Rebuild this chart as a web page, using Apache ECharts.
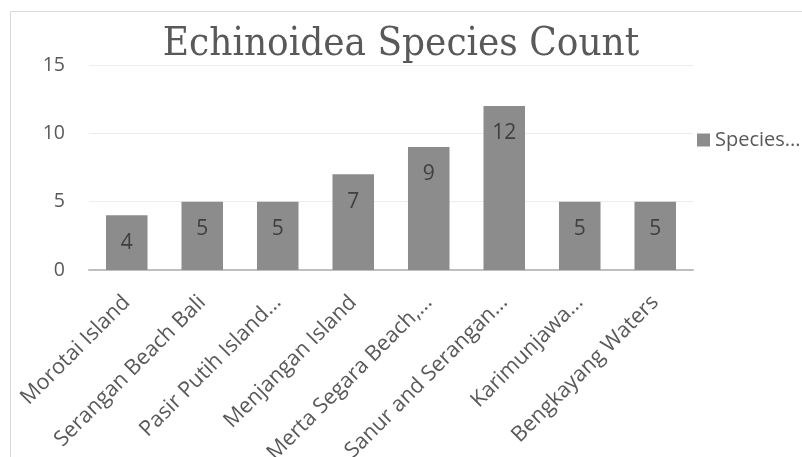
<!DOCTYPE html>
<html>
<head>
<meta charset="utf-8">
<script src="https://cdn.jsdelivr.net/npm/echarts@6/dist/echarts.min.js"></script>
<style>
html,body{margin:0;padding:0;background:#fff;}
#c{width:802px;height:457px;}
</style>
</head>
<body>
<div id="c"></div>
<script>
var categories = ["Morotai Island","Serangan Beach Bali","Pasir Putih Island...","Menjangan Island","Merta Segara Beach,...","Sanur and Serangan...","Karimunjawa...","Bengkayang Waters"];
var speciesCounts = [4,5,5,7,9,12,5,5];
var yTicks = {min:0, max:15, interval:5};
var seriesName = "Species...";
var titleText = "Echinoidea Species Count";

var chart = echarts.init(document.getElementById('c'), null, {renderer:'canvas'});
chart.setOption({
  backgroundColor:'#fff',
  animation:false,
  graphic:[{type:'rect', shape:{x:10.5,y:11.5,width:820,height:480}, style:{fill:'none', stroke:'#d9d9d9', lineWidth:1}, silent:true}],
  title:{text:titleText, left:'center', top:20, textStyle:{fontFamily:'DejaVu Serif Condensed', fontWeight:'normal', fontSize:40, color:'#595959'}},
  legend:{data:[seriesName], orient:'vertical', left:692, top:125, itemWidth:13, itemHeight:13, icon:'rect', textStyle:{fontFamily:'Open Sans', fontSize:20, color:'#595959'}, itemGap:5},
  grid:{left:89, right:109, top:65, bottom:187, containLabel:false, outerBoundsMode:'none'},
  xAxis:{type:'category', data:categories,
    axisLine:{lineStyle:{color:'#bfbfbf', width:2}}, axisTick:{show:false},
    axisLabel:{interval:0, rotate:45, fontFamily:'Open Sans', fontSize:21.5, color:'#595959', margin:29}},
  yAxis:{type:'value', min:yTicks.min, max:yTicks.max, interval:yTicks.interval,
    axisLine:{show:false}, axisTick:{show:false},
    splitLine:{lineStyle:{color:'#ececec', width:1}},
    axisLabel:{fontFamily:'Open Sans', fontSize:19.5, color:'#595959', margin:24}},
  series:[{name:seriesName, type:'bar', data:speciesCounts, barWidth:'55%',
    itemStyle:{color:'#8c8c8c'},
    label:{show:true, position:'insideTop', distance:17, fontFamily:'Open Sans', fontSize:21, color:'#404040'}}]
});
</script>
</body>
</html>
